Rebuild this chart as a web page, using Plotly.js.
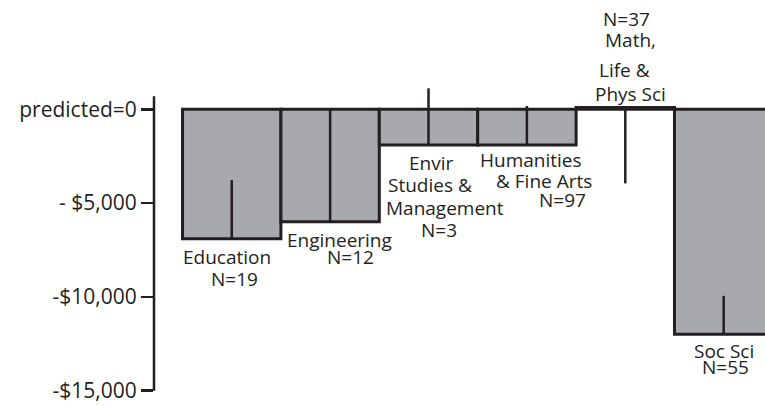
<!DOCTYPE html>
<html>
<head>
<meta charset="utf-8">
<script src="https://cdn.plot.ly/plotly-3.0.1.min.js"></script>
<style>
  html, body { margin: 0; padding: 0; background: #fff; }
  #chart { width: 765px; height: 406px; }
</style>
</head>
<body>
<div id="chart"></div>
<script>
// difference from predicted salary, by field
var fields = ['Education', 'Engineering', 'Envir', 'Humanities', 'Math', 'Soc Sci'];
var diff = [-6900, -6000, -1900, -1900, 100, -12000];
// the vertical line in each bar runs between these two values
var lineTop = [-3770, 0, 1120, 175, 100, -9950];
var lineBottom = [-6900, -6000, -1900, -1900, -3950, -12000];

var tickVals = [0, -5000, -10000, -15000];
var tickText = ['predicted=0', '- $5,000', '-$10,000', '-$15,000'];

var ink = '#231f20';

var bars = {
  x: fields,
  y: diff,
  type: 'bar',
  marker: { color: '#a7a9ac', line: { color: ink, width: 3 } },
  error_y: {
    type: 'data',
    symmetric: false,
    array: lineTop.map(function (v, i) { return v - diff[i]; }),
    arrayminus: lineBottom.map(function (v, i) { return diff[i] - v; }),
    color: ink,
    thickness: 2.5,
    width: 0
  },
  hoverinfo: 'none'
};

// label lines: [text, px from left, px from top]
var labels = [
  ['Education', 227, 257],
  ['N=19', 234, 279],
  ['Engineering', 339, 239.5],
  ['N=12', 350, 256.5],
  ['Envir', 431, 162.5],
  ['Studies &', 430, 185],
  ['Management', 445, 207.5],
  ['N=3', 438.7, 230],
  ['Humanities', 531, 160],
  ['& Fine Arts', 544, 180.5],
  ['N=97', 562, 200],
  ['N=37', 626, 19],
  ['Math,', 630, 40.5],
  ['Life &', 624, 69.5],
  ['Phys Sci', 630, 93.5],
  ['Soc Sci', 724, 350.5],
  ['N=55', 725, 367]
];

var M = { l: 154, r: 0, t: 80, b: 6 };
var W = 765, H = 406;
var plotW = W - M.l - M.r, plotH = H - M.t - M.b;

var annotations = labels.map(function (l) {
  return {
    text: l[0],
    x: (l[1] - M.l) / plotW,
    y: (H - M.b - l[2]) / plotH,
    xref: 'paper', yref: 'paper',
    showarrow: false, xanchor: 'center', yanchor: 'middle',
    font: { family: 'Open Sans', size: 19, color: ink }
  };
});

var layout = {
  width: W,
  height: H,
  margin: M,
  paper_bgcolor: '#fff',
  plot_bgcolor: '#fff',
  showlegend: false,
  bargap: 0,
  xaxis: {
    type: 'category',
    range: [-0.79, 5.42],
    showticklabels: false, showline: false, showgrid: false, zeroline: false, ticks: ''
  },
  yaxis: {
    range: [-15504, 1563],
    tickvals: tickVals,
    ticktext: tickText,
    ticks: 'outside', ticklen: 12, tickwidth: 2.5, tickcolor: ink,
    tickfont: { family: 'Open Sans', size: 21, color: ink },
    showline: false, showgrid: false, zeroline: false
  },
  shapes: [{
    type: 'line', xref: 'paper', yref: 'y',
    x0: 0, x1: 0, y0: 700, y1: -15010,
    line: { color: ink, width: 2.5 }
  }],
  annotations: annotations
};

Plotly.newPlot('chart', [bars], layout, { displayModeBar: false, staticPlot: true });
</script>
</body>
</html>
